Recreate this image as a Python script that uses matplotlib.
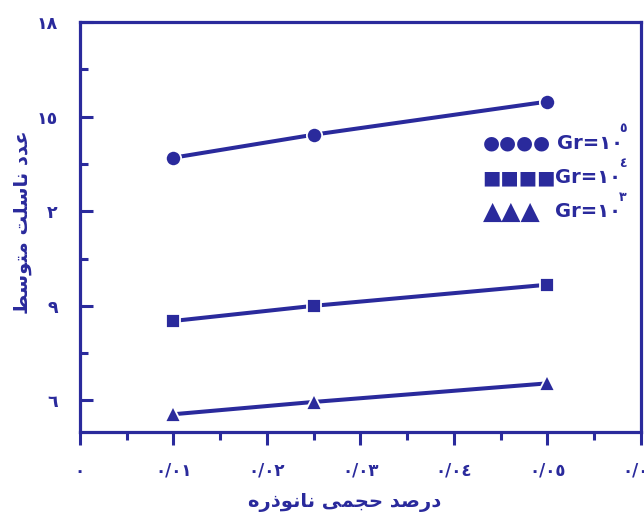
import matplotlib
matplotlib.use("Agg")
import matplotlib.pyplot as plt

# ---- data ----
x_vals = [0.01, 0.025, 0.05]
nu_gr5 = [13.7, 14.43, 15.48]
nu_gr4 = [8.52, 9.0, 9.67]
nu_gr3 = [5.56, 5.95, 6.54]

x_ticks = [0, 0.01, 0.02, 0.03, 0.04, 0.05, 0.06]
x_tick_labels = ["٠", "٠/٠١", "٠/٠٢", "٠/٠٣", "٠/٠٤", "٠/٠٥", "٠/٠٦"]
y_ticks = [6, 9, 12, 15, 18]
y_tick_labels = ["٦", "٩", "٢", "١٥", "١٨"]

x_label_raw = "درصد حجمی نانوذره"
y_label_raw = "عدد ناسلت متوسط"

legend_marks = ["●●●●", "■■■■", "▲▲▲"]
legend_base = "Gr=١٠"
legend_exps = ["٥", "٤", "٣"]

# ---- minimal Arabic/Persian shaping (presentation forms) ----
FORMS = {
    'ا': ('\uFE8D', '\uFE8E', None, None),
    'ت': ('\uFE95', '\uFE96', '\uFE97', '\uFE98'),
    'ج': ('\uFE9D', '\uFE9E', '\uFE9F', '\uFEA0'),
    'ح': ('\uFEA1', '\uFEA2', '\uFEA3', '\uFEA4'),
    'د': ('\uFEA9', '\uFEAA', None, None),
    'ذ': ('\uFEAB', '\uFEAC', None, None),
    'ر': ('\uFEAD', '\uFEAE', None, None),
    'س': ('\uFEB1', '\uFEB2', '\uFEB3', '\uFEB4'),
    'ص': ('\uFEB9', '\uFEBA', '\uFEBB', '\uFEBC'),
    'ط': ('\uFEC1', '\uFEC2', '\uFEC3', '\uFEC4'),
    'ع': ('\uFEC9', '\uFECA', '\uFECB', '\uFECC'),
    'ل': ('\uFEDD', '\uFEDE', '\uFEDF', '\uFEE0'),
    'م': ('\uFEE1', '\uFEE2', '\uFEE3', '\uFEE4'),
    'ن': ('\uFEE5', '\uFEE6', '\uFEE7', '\uFEE8'),
    'ه': ('\uFEE9', '\uFEEA', '\uFEEB', '\uFEEC'),
    'و': ('\uFEED', '\uFEEE', None, None),
    'ی': ('\uFBFC', '\uFBFD', '\uFBFE', '\uFBFF'),
}


def shape(text):
    out = []
    n = len(text)
    for i, ch in enumerate(text):
        if ch not in FORMS:
            out.append(ch)
            continue
        prev = text[i - 1] if i > 0 else None
        nxt = text[i + 1] if i < n - 1 else None
        join_prev = prev in FORMS and FORMS[prev][2] is not None
        join_next = nxt in FORMS and FORMS[ch][2] is not None
        iso, fin, ini, med = FORMS[ch]
        if join_prev and join_next:
            out.append(med)
        elif join_prev:
            out.append(fin)
        elif join_next:
            out.append(ini)
        else:
            out.append(iso)
    return "".join(out)[::-1]


color = '#2a2a9c'
plt.rcParams['font.family'] = ['DejaVu Sans']

fig = plt.figure(figsize=(6.44, 5.16), dpi=100)
ax = fig.add_axes([0.124, 0.163, 0.871, 0.794])

lw = 2.9
ax.plot(x_vals, nu_gr5, color=color, lw=lw, marker='o', ms=11,
        markeredgecolor='white', markeredgewidth=1.3)
ax.plot(x_vals, nu_gr4, color=color, lw=lw, marker='s', ms=9.5,
        markeredgecolor='white', markeredgewidth=1.3)
ax.plot(x_vals, nu_gr3, color=color, lw=lw, marker='^', ms=11,
        markeredgecolor='white', markeredgewidth=1.3)

ax.set_xlim(0, 0.06)
ax.set_ylim(5, 18)

ax.set_xticks(x_ticks)
ax.set_xticklabels(x_tick_labels, fontsize=12, fontweight='bold', color=color)
ax.set_xticks([0.005 + 0.01 * i for i in range(6)], minor=True)
ax.set_yticks(y_ticks)
ax.set_yticklabels(y_tick_labels, fontsize=12.5, fontweight='bold', color=color)
ax.set_yticks([7.5, 10.5, 13.5, 16.5], minor=True)

for s in ax.spines.values():
    s.set_color(color)
    s.set_linewidth(2.3)

ax.tick_params(axis='x', which='major', direction='out', length=9.4, width=2.2,
               color=color, pad=12)
ax.tick_params(axis='x', which='minor', direction='out', length=6, width=2.2,
               color=color)
ax.tick_params(axis='y', which='major', direction='in', length=9.4, width=2.2,
               color=color, pad=16)
ax.tick_params(axis='y', which='minor', direction='in', length=6, width=2.2,
               color=color)

fig.text(345 / 644, 1 - 503 / 516, shape(x_label_raw), fontsize=14,
         fontweight='bold', color=color, ha='center', va='center')
fig.text(23 / 644, 1 - 222 / 516, shape(y_label_raw), fontsize=14,
         fontweight='bold', color=color, ha='center', va='center', rotation=90)

# legend as text rows
row_y = [0.705, 0.620, 0.537]
mark_sizes = [14, 14, 18]
base_x = [0.850, 0.847, 0.847]
for marks, exp, yy, ms, bx in zip(legend_marks, legend_exps, row_y,
                                  mark_sizes, base_x):
    ax.text(0.718, yy, marks, transform=ax.transAxes, fontsize=ms,
            color=color, ha='left', va='center')
    ax.text(bx, yy, legend_base, transform=ax.transAxes, fontsize=14,
            fontweight='bold', color=color, ha='left', va='center')
    ax.text(0.968, yy + 0.036, exp, transform=ax.transAxes, fontsize=9,
            fontweight='bold', color=color, ha='center', va='center')

fig.savefig("out.png", dpi=100)
